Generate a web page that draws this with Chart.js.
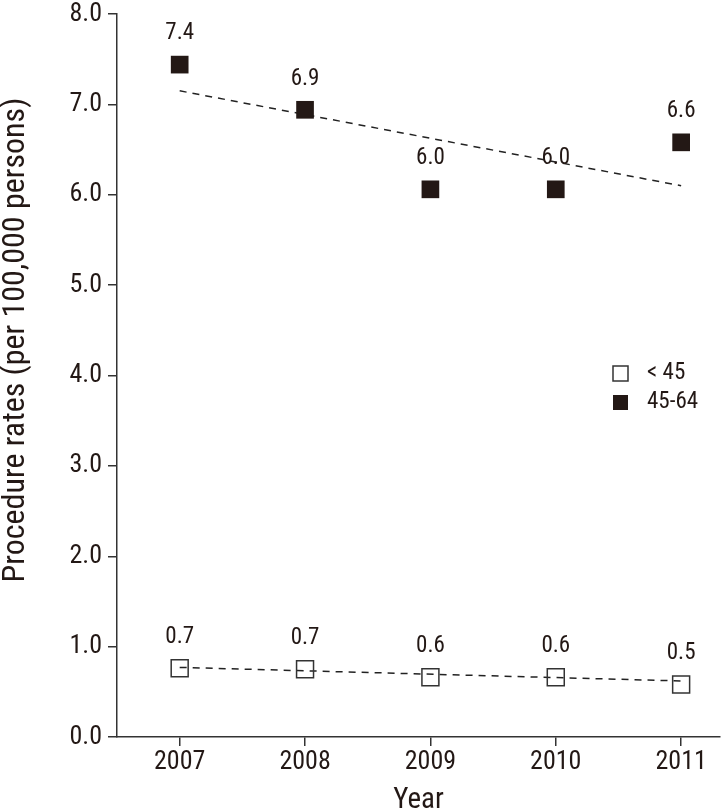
<!DOCTYPE html>
<html>
<head>
<meta charset="utf-8">
<script src="https://cdn.jsdelivr.net/npm/chart.js@4/dist/chart.umd.min.js"></script>
<style>
  html, body { margin: 0; padding: 0; background: #fff; overflow: hidden; }
  #wrap { width: 724px; height: 812px; }
  canvas { display: block; }
</style>
</head>
<body>
<div id="wrap"><canvas id="rateChart" width="724" height="812"></canvas></div>
<script>
// --- data ---
const years = [2007, 2008, 2009, 2010, 2011];
const under45 = [0.76, 0.75, 0.66, 0.66, 0.58];
const under45Text = ['0.7', '0.7', '0.6', '0.6', '0.5'];
const age4564 = [7.44, 6.94, 6.06, 6.06, 6.58];
const age4564Text = ['7.4', '6.9', '6.0', '6.0', '6.6'];
// trend line end points (first and last year)
const under45Trend = [0.77, 0.62];
const age4564Trend = [7.15, 6.10];
const yTicks = [0, 1, 2, 3, 4, 5, 6, 7, 8];
const yTitle = 'Procedure rates (per 100,000 persons)';

const FONT = "'Liberation Sans Narrow', 'Arial Narrow', 'Roboto Condensed', sans-serif";
const INK = '#231815';

const toPoints = (vals) => vals.map((v, i) => ({ x: years[i], y: v }));
const trendPoints = (ends) => [{ x: years[0], y: ends[0] }, { x: years[years.length - 1], y: ends[1] }];

// value labels above each marker
const valueLabels = {
    id: 'valueLabels',
    afterDatasetsDraw(chart) {
        const ctx = chart.ctx;
        ctx.save();
        ctx.font = '23px ' + FONT;
        ctx.fillStyle = INK;
        ctx.textAlign = 'center';
        ctx.textBaseline = 'middle';
        chart.data.datasets.forEach((ds, i) => {
            if (!ds.valueText) return;
            chart.getDatasetMeta(i).data.forEach((pt, j) => {
                ctx.fillText(ds.valueText[j], pt.x, pt.y - 31);
            });
        });
        ctx.restore();
    }
};

// legend inside the plot + y title (sits a bit above the axis centre in the original)
const extras = {
    id: 'extras',
    afterDraw(chart) {
        const ctx = chart.ctx;
        ctx.save();
        ctx.font = '23px ' + FONT;
        ctx.textBaseline = 'middle';
        ctx.textAlign = 'left';
        const items = chart.data.datasets.filter(ds => ds.valueText);
        items.forEach((ds, k) => {
            const y = 373 + k * 29;
            if (ds.backgroundColor === 'transparent') {
                ctx.strokeStyle = '#333';
                ctx.lineWidth = 1.5;
                ctx.strokeRect(613, y - 7, 15, 15);
            } else {
                ctx.fillStyle = INK;
                ctx.fillRect(613, y - 7, 15, 15);
            }
            ctx.fillStyle = INK;
            ctx.fillText(ds.label, 647, y);
        });

        ctx.translate(16, 340);
        ctx.rotate(-Math.PI / 2);
        ctx.textAlign = 'center';
        ctx.font = '32px ' + FONT;
        ctx.fillText(yTitle, 0, 0);
        ctx.restore();
    }
};

const ctx = document.getElementById('rateChart').getContext('2d');
new Chart(ctx, {
    type: 'scatter',
    data: {
        datasets: [
            {
                label: '< 45',
                data: toPoints(under45),
                valueText: under45Text,
                pointStyle: 'rect',
                pointRadius: 12,
                backgroundColor: 'transparent',
                borderColor: '#333',
                borderWidth: 1.5
            },
            {
                label: '45-64',
                data: toPoints(age4564),
                valueText: age4564Text,
                pointStyle: 'rect',
                pointRadius: 12.5,
                backgroundColor: INK,
                borderColor: INK,
                borderWidth: 0
            },
            {
                label: 'trend < 45',
                data: trendPoints(under45Trend),
                showLine: true,
                pointRadius: 0,
                borderColor: '#222',
                borderWidth: 1.5,
                borderDash: [7, 6]
            },
            {
                label: 'trend 45-64',
                data: trendPoints(age4564Trend),
                showLine: true,
                pointRadius: 0,
                borderColor: '#222',
                borderWidth: 1.5,
                borderDash: [7, 6]
            }
        ]
    },
    options: {
        responsive: false,
        animation: false,
        layout: { autoPadding: false, padding: { top: 14, right: 4, left: 0, bottom: 0 } },
        scales: {
            x: {
                type: 'linear',
                min: 2006.5,
                max: 2011.31,
                afterBuildTicks: (axis) => { axis.ticks = years.map(v => ({ value: v })); },
                afterFit: (axis) => {
                    axis.height = 75;
                    axis.paddingLeft = 0;
                    axis.paddingRight = 0;
                },
                grid: { display: true, drawOnChartArea: false, drawTicks: true, tickLength: 9, color: '#333', lineWidth: 1.5 },
                border: { display: true, color: '#333', width: 1.5 },
                ticks: {
                    color: INK,
                    font: { family: FONT, size: 26 },
                    padding: 1,
                    callback: (v) => String(v)
                },
                title: {
                    display: true,
                    text: 'Year',
                    color: INK,
                    font: { family: FONT, size: 29, lineHeight: 0.8 },
                    padding: { top: 0, bottom: 0 }
                }
            },
            y: {
                min: 0,
                max: 8,
                afterBuildTicks: (axis) => { axis.ticks = yTicks.map(v => ({ value: v })); },
                afterFit: (axis) => {
                    axis.width = 117;
                    axis.paddingTop = 0;
                    axis.paddingBottom = 0;
                },
                grid: { display: true, drawOnChartArea: false, drawTicks: true, tickLength: 9, color: '#333', lineWidth: 1.5 },
                border: { display: true, color: '#333', width: 1.5 },
                ticks: {
                    color: INK,
                    font: { family: FONT, size: 26 },
                    padding: 6,
                    callback: (v) => v.toFixed(1)
                },
                title: { display: false }
            }
        },
        plugins: {
            legend: { display: false },
            tooltip: { enabled: false }
        }
    },
    plugins: [valueLabels, extras]
});
</script>
</body>
</html>
